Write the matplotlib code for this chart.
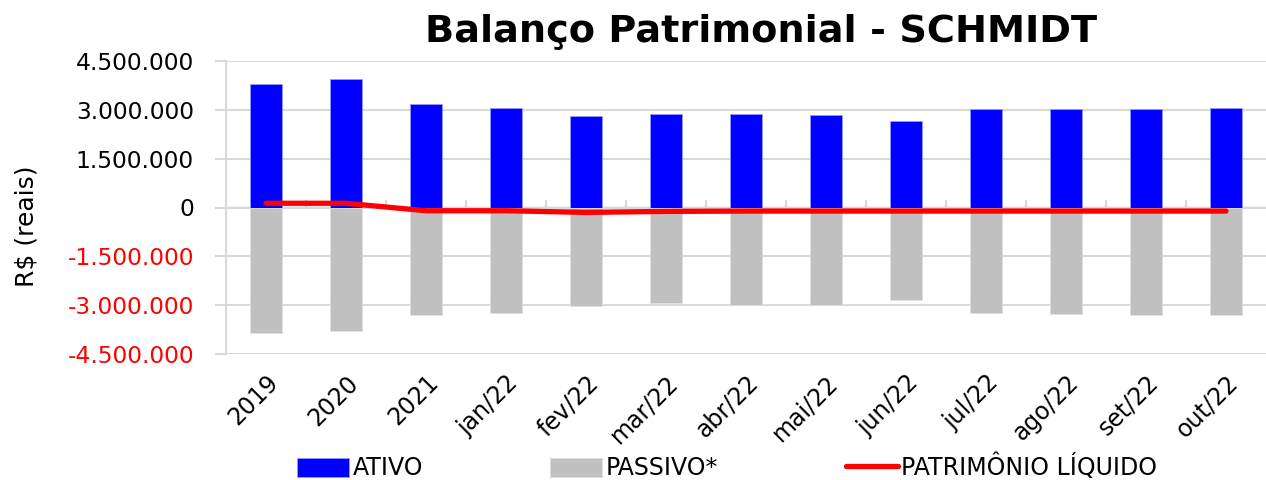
import matplotlib
matplotlib.use("Agg")
import matplotlib.pyplot as plt
import numpy as np
from matplotlib.ticker import FuncFormatter

categories = ["2019", "2020", "2021", "jan/22", "fev/22", "mar/22", "abr/22",
              "mai/22", "jun/22", "jul/22", "ago/22", "set/22", "out/22"]
ativo = [3790000, 3940000, 3180000, 3070000, 2800000, 2860000, 2880000,
         2850000, 2650000, 3030000, 3030000, 3030000, 3050000]
passivo = [-3870000, -3790000, -3300000, -3250000, -3020000, -2940000, -2990000,
           -2990000, -2840000, -3250000, -3270000, -3290000, -3310000]
pl = [130000, 130000, -100000, -100000, -150000, -120000, -110000,
      -110000, -110000, -110000, -110000, -110000, -110000]
yticks = [-4500000, -3000000, -1500000, 0, 1500000, 3000000, 4500000]

plt.rcParams['font.family'] = ['DejaVu Sans']

fig = plt.figure(figsize=(12.66, 4.80), dpi=100)
ax = fig.add_axes([226/1266, 1-354/480, 1040/1266, 293/480])

x = np.arange(len(categories))
grid_c = "#d9d9d9"
b1 = ax.bar(x, ativo, width=0.4, color="#0000ff", edgecolor="#9999ff", linewidth=0.6, zorder=2, label="ATIVO")
b2 = ax.bar(x, passivo, width=0.4, color="#c0c0c0", edgecolor="#e0e0e0", linewidth=0.6, zorder=2, label="PASSIVO*")
l1, = ax.plot(x, pl, color="#ff0000", lw=3.8, solid_capstyle="round", zorder=3, label="PATRIMÔNIO LÍQUIDO")

ax.set_xlim(-0.5, len(categories)-0.5)
ax.set_ylim(-4500000, 4500000)
ax.set_yticks(yticks)

def fmt(v, pos):
    s = f"{abs(int(v)):,}".replace(",", ".")
    return ("-" + s) if v < 0 else s
ax.yaxis.set_major_formatter(FuncFormatter(fmt))
ax.tick_params(axis="y", length=8, width=1.5, color=grid_c, labelsize=16.8, pad=15)
for lab, v in zip(ax.get_yticklabels(), yticks):
    lab.set_color("red" if v < 0 else "black")

ax.grid(axis="y", color=grid_c, lw=1.5, zorder=0)
ax.set_axisbelow(True)
for s in ["top", "right", "bottom"]:
    ax.spines[s].set_visible(False)
ax.spines["left"].set_color(grid_c)
ax.spines["left"].set_linewidth(1.5)

ax.set_xticks(x)
ax.set_xticklabels(categories, rotation=45, ha="right", rotation_mode="anchor", fontsize=17)
ax.tick_params(axis="x", length=0, pad=12)

sec = ax.secondary_xaxis(0.5)
sec.set_xticks(np.arange(len(categories)-1) + 0.5)
sec.set_xticklabels([])
sec.tick_params(axis="x", length=5, width=1.5, color=grid_c, direction="out")
sec.spines["bottom"].set_visible(False)

ax.set_ylabel("R$ (reais)", fontsize=18)
ax.yaxis.set_label_coords(-0.180, 0.437)

fig.text(0.601, 0.933, "Balanço Patrimonial - SCHMIDT", fontsize=27.5, fontweight="bold",
         ha="center", va="center")

fig.legend(handles=[b1, b2, l1], loc="center left", bbox_to_anchor=(297/1266, 0.027), ncol=3,
           frameon=False, fontsize=17, handlelength=2.2, handleheight=0.85,
           handletextpad=0.15, columnspacing=5.4, borderpad=0, borderaxespad=0)

fig.savefig("out.png", dpi=100)
